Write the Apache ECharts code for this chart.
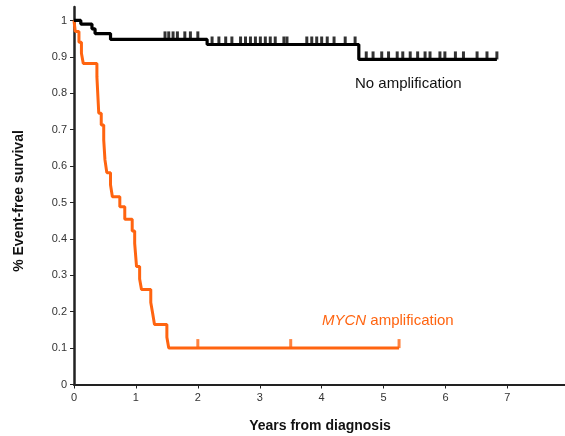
<!DOCTYPE html>
<html>
<head>
<meta charset="utf-8">
<title>Event-free survival</title>
<script src="https://cdn.jsdelivr.net/npm/echarts@6/dist/echarts.min.js"></script>
<style>
  html, body { margin: 0; padding: 0; background: #fff; }
  #main { width: 565px; height: 436px; }
</style>
</head>
<body>
<div id="main"></div>
<script>
// Kaplan-Meier steps: [years, survival after the event]
var noAmpSteps = [[0, 1], [0.11, 0.99], [0.29, 0.977], [0.34, 0.964], [0.59, 0.948], [2.15, 0.934], [4.60, 0.893], [6.83, 0.893]];
var noAmpCensor = [1.47, 1.53, 1.60, 1.67, 1.79, 1.88, 2.0,
  2.23, 2.34, 2.45, 2.55, 2.69, 2.77, 2.85, 2.93, 3.01, 3.09, 3.17, 3.25, 3.39, 3.44,
  3.76, 3.84, 3.92, 4.0, 4.09, 4.2, 4.38, 4.54,
  4.72, 4.83, 4.97, 5.08, 5.22, 5.31, 5.43, 5.55, 5.67, 5.75, 5.91, 5.99, 6.16, 6.29, 6.51, 6.67, 6.83];

var mycnSteps = [[0, 1], [0.02, 0.97], [0.08, 0.94], [0.12, 0.91], [0.15, 0.882], [0.37, 0.845], [0.40, 0.745],
  [0.44, 0.713], [0.48, 0.672], [0.50, 0.617], [0.53, 0.582], [0.59, 0.548], [0.62, 0.516], [0.74, 0.488],
  [0.82, 0.454], [0.94, 0.422], [0.98, 0.388], [1.01, 0.324], [1.06, 0.29], [1.09, 0.261], [1.24, 0.225],
  [1.27, 0.196], [1.30, 0.165], [1.50, 0.13], [1.53, 0.10], [5.25, 0.10]];
var mycnCensor = [2.0, 3.5, 5.25];

var xTicks = [0, 1, 2, 3, 4, 5, 6, 7];
var yTicks = [0, 0.1, 0.2, 0.3, 0.4, 0.5, 0.6, 0.7, 0.8, 0.9, 1];

var BLACK = '#000000';
var ORANGE = '#ff6410';

// survival value of a step curve at time t
function survAt(steps, t) {
  var v = steps[0][1];
  for (var i = 0; i < steps.length; i++) {
    if (steps[i][0] <= t) v = steps[i][1];
  }
  return v;
}
function censorPoints(steps, times) {
  return times.map(function (t) { return [t, survAt(steps, t)]; });
}

var chart = echarts.init(document.getElementById('main'));
var option = {
  animation: false,
  grid: { left: 74, right: 0, top: 7, bottom: 51.5 },
  xAxis: {
    type: 'value', min: 0, max: 7.93,
    splitLine: { show: false },
    axisLine: { lineStyle: { color: '#222', width: 2 } },
    axisTick: { customValues: xTicks, length: 4, lineStyle: { color: '#222' } },
    axisLabel: { customValues: xTicks, color: '#333', fontSize: 11, fontFamily: 'Liberation Sans', margin: 8 }
  },
  yAxis: {
    type: 'value', min: 0, max: 1.037,
    splitLine: { show: false },
    axisLine: { show: true, lineStyle: { color: '#222', width: 2.5 } },
    axisTick: { show: true, customValues: yTicks, length: 4, lineStyle: { color: '#222' } },
    axisLabel: {
      customValues: yTicks, color: '#333', fontSize: 11, fontFamily: 'Liberation Sans', margin: 7,
      formatter: function (v) { return String(+v.toFixed(1)); }
    }
  },
  series: [
    {
      name: 'No amplification', type: 'line', step: 'end', data: noAmpSteps,
      showSymbol: false, lineStyle: { color: BLACK, width: 3.2 }, z: 3
    },
    {
      name: 'MYCN amplification', type: 'line', step: 'end', data: mycnSteps,
      showSymbol: false, lineStyle: { color: ORANGE, width: 3 }, z: 2
    },
    {
      type: 'scatter', data: censorPoints(noAmpSteps, noAmpCensor),
      symbol: 'rect', symbolSize: [3, 8], symbolOffset: [0, -4],
      itemStyle: { color: BLACK }, z: 3
    },
    {
      type: 'scatter', data: censorPoints(mycnSteps, mycnCensor),
      symbol: 'rect', symbolSize: [3, 9], symbolOffset: [0, -4.5],
      itemStyle: { color: ORANGE }, z: 2
    }
  ],
  graphic: [
    {
      type: 'text', left: 355, top: 76,
      style: { text: 'No amplification', fill: '#111', font: '15px "Liberation Sans"' }
    },
    {
      type: 'text', left: 322, top: 313,
      style: {
        text: '{i|MYCN} amplification', fill: ORANGE, font: '15px "Liberation Sans"',
        rich: { i: { fontStyle: 'italic', fill: ORANGE, font: 'italic 15px "Liberation Sans"' } }
      }
    },
    {
      type: 'text', x: 19, y: 201, rotation: Math.PI / 2,
      style: { text: '% Event-free survival', fill: '#111', font: 'bold 14px "Liberation Sans"', align: 'center', verticalAlign: 'middle' }
    },
    {
      type: 'text', x: 320, y: 426,
      style: { text: 'Years from diagnosis', fill: '#111', font: 'bold 14px "Liberation Sans"', align: 'center', verticalAlign: 'middle' }
    }
  ]
};
chart.setOption(option);
</script>
</body>
</html>
